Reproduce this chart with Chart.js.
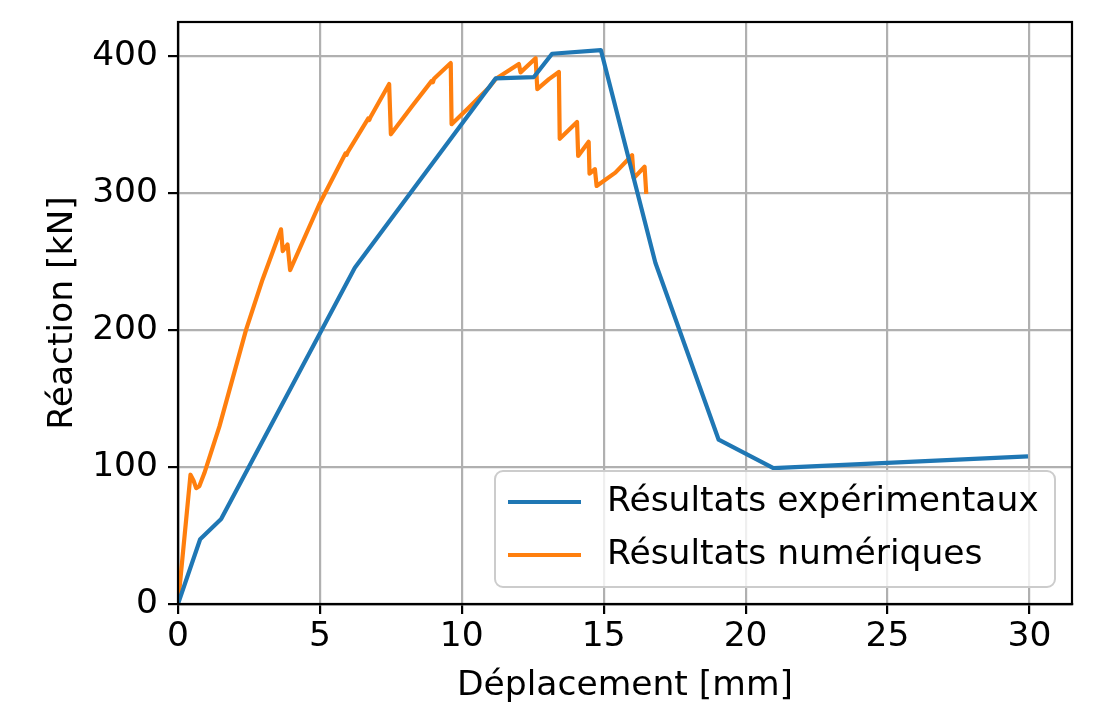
<!DOCTYPE html>
<html>
<head>
<meta charset="utf-8">
<script src="https://cdn.jsdelivr.net/npm/chart.js@4/dist/chart.umd.min.js"></script>
<style>
  html, body { margin: 0; padding: 0; background: #fff; }
  #wrap { width: 1120px; height: 713px; }
</style>
</head>
<body>
<div id="wrap"><canvas id="chart" width="1120" height="713"></canvas></div>
<script>
// Experimental curve
const expX = [0, 0.78, 1.52, 6.23, 11.19, 12.54, 13.18, 14.9, 16.82, 19.05, 20.98, 29.95];
const expY = [0, 47.3, 62, 245.6, 383.8, 384.8, 401.8, 404.5, 249.2, 120, 99.2, 107.8];

// Numerical curve
const numX = [0, 0.44, 0.55, 0.64, 0.75, 0.93, 1.46, 2.4, 2.98, 3.63, 3.69, 3.86, 3.95, 4.98,
  5.9, 5.94, 5.98, 6.70, 6.74, 6.78, 7.44, 7.5, 8.26, 8.94, 8.98, 9.02, 9.61, 9.64, 10.25, 10.96,
  11.19, 12.01, 12.07, 12.6, 12.66, 13.07, 13.42, 13.45, 14.06, 14.1, 14.47, 14.5, 14.69,
  14.75, 15.41, 16.0, 16.06, 16.44, 16.5];
const numY = [0, 94.4, 90, 84.6, 86, 95.6, 129.7, 200.4, 237, 273.6, 257.7, 262.6, 243.8, 291.9,
  329, 328, 330, 354.5, 353.5, 355.5, 379.7, 343, 363.8, 382, 381, 383.5, 395, 350.4, 362.6, 377.2,
  383.3, 394.3, 388.2, 398.5, 376, 383.3, 388.5, 339.7, 352, 327.2, 337.5, 314.2, 317.5,
  305.3, 315, 327.7, 311, 319.3, 299.5];

const xTicks = [0, 5, 10, 15, 20, 25, 30];
const yTicks = [0, 100, 200, 300, 400];
const labels = ['Résultats expérimentaux', 'Résultats numériques'];
const colors = ['#1f77b4', '#ff7f0e'];

const FONT = 'DejaVu Sans';
const FS = 34.5;

const toPts = (xs, ys) => xs.map((x, i) => ({ x: x, y: ys[i] }));

// frame around the plot + matplotlib style legend inside the axes
const framePlugin = {
  id: 'frame',
  afterDraw(chart) {
    const ctx = chart.ctx;
    const a = chart.chartArea;
    ctx.save();
    ctx.strokeStyle = '#000';
    ctx.lineWidth = 2.2;
    ctx.strokeRect(a.left, a.top, a.right - a.left, a.bottom - a.top);

    // legend box
    const bx = 495, by = 471, bw = 560, bh = 116, r = 8;
    ctx.beginPath();
    ctx.moveTo(bx + r, by);
    ctx.arcTo(bx + bw, by, bx + bw, by + bh, r);
    ctx.arcTo(bx + bw, by + bh, bx, by + bh, r);
    ctx.arcTo(bx, by + bh, bx, by, r);
    ctx.arcTo(bx, by, bx + bw, by, r);
    ctx.closePath();
    ctx.fillStyle = 'rgba(255,255,255,0.8)';
    ctx.fill();
    ctx.strokeStyle = '#cccccc';
    ctx.lineWidth = 2;
    ctx.stroke();

    labels.forEach((txt, i) => {
      const y = by + 31 + i * 53;
      ctx.strokeStyle = colors[i];
      ctx.lineWidth = 4.2;
      ctx.beginPath();
      ctx.moveTo(508, y);
      ctx.lineTo(581, y);
      ctx.stroke();
      ctx.fillStyle = '#000';
      ctx.font = FS + 'px "' + FONT + '"';
      ctx.textBaseline = 'middle';
      ctx.textAlign = 'left';
      ctx.fillText(txt, 607, y);
    });
    ctx.restore();
  }
};

new Chart(document.getElementById('chart').getContext('2d'), {
  type: 'line',
  data: {
    datasets: [
      { label: labels[0], data: toPts(expX, expY), borderColor: colors[0] },
      { label: labels[1], data: toPts(numX, numY), borderColor: colors[1] }
    ]
  },
  options: {
    responsive: false,
    animation: false,
    layout: { padding: { top: 22, right: 48, left: 0, bottom: 0 } },
    elements: {
      point: { radius: 0 },
      line: { borderWidth: 4.2, tension: 0, fill: false, borderJoinStyle: 'round', borderCapStyle: 'butt' }
    },
    plugins: { legend: { display: false }, tooltip: { enabled: false } },
    scales: {
      x: {
        type: 'linear',
        min: 0,
        max: 31.5,
        afterFit: s => { s.height = 109; s.paddingLeft = 0; s.paddingRight = 0; },
        afterBuildTicks: s => { s.ticks = xTicks.map(v => ({ value: v })); },
        grid: { color: '#b0b0b0', lineWidth: 2.2, tickColor: '#000', tickWidth: 2.2, tickLength: 10 },
        border: { color: '#000', width: 2.2 },
        ticks: { color: '#000', font: { family: FONT, size: FS }, padding: 2, maxRotation: 0 },
        title: { display: true, text: 'Déplacement [mm]', color: '#000', font: { family: FONT, size: FS }, padding: 6 }
      },
      y: {
        type: 'linear',
        min: 0,
        max: 425,
        afterFit: s => { s.width = 178; s.paddingTop = 0; s.paddingBottom = 0; },
        afterBuildTicks: s => { s.ticks = yTicks.map(v => ({ value: v })); },
        grid: { color: '#b0b0b0', lineWidth: 2.2, tickColor: '#000', tickWidth: 2.2, tickLength: 10 },
        border: { color: '#000', width: 2.2 },
        ticks: { color: '#000', font: { family: FONT, size: FS }, padding: 10 },
        title: { display: true, text: 'Réaction [kN]', color: '#000', font: { family: FONT, size: FS }, padding: 42 }
      }
    }
  },
  plugins: [framePlugin]
});
</script>
</body>
</html>
